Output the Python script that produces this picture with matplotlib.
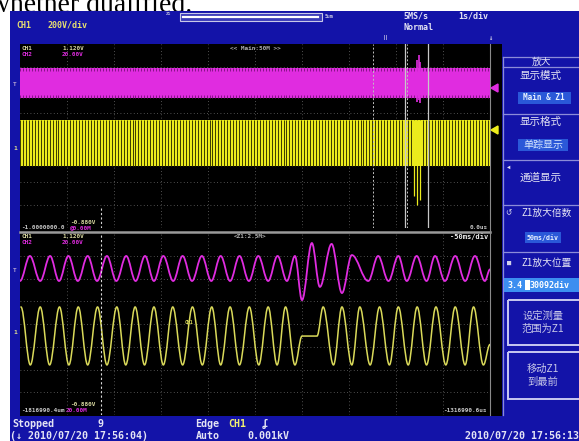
import matplotlib
matplotlib.use("Agg")
import matplotlib.pyplot as plt
from matplotlib.patches import Rectangle, Polygon, PathPatch
from matplotlib.path import Path

# ---------------- data ----------------
# Lower window (Z1 zoom): trace turning points; time in divisions (0-10), level in divisions (-4..4)
z1_ch1_t = [0.02, 0.22, 0.43, 0.63, 0.84, 1.04, 1.24, 1.44, 1.65, 1.85, 2.06, 2.25, 2.45, 2.65,
            2.85, 3.05, 3.25, 3.46, 3.67, 3.88, 4.08, 4.27, 4.47, 4.67, 4.88, 5.08, 5.28, 5.47,
            5.65, 5.85, 6.00, 6.32, 6.45, 6.67, 6.85, 7.06, 7.23, 7.45, 7.65, 7.86, 8.05, 8.26,
            8.45, 8.65, 8.85, 9.06, 9.26, 9.47, 9.65, 9.86, 10.00]
z1_ch1_v = [0.75, -1.80, 0.75, -1.80, 0.75, -1.80, 0.75, -1.80, 0.75, -1.80, 0.75, -1.80, 0.75, -1.80,
            0.75, -1.80, 0.75, -1.80, 0.75, -1.80, 0.75, -1.80, 0.75, -1.80, 0.75, -1.80, 0.75, -1.80,
            0.75, -1.80, -0.53, -0.53, 0.75, -1.80, 0.75, -1.80, 0.75, -1.80, 0.75, -1.80, 0.75, -1.80,
            0.75, -1.80, 0.75, -1.80, 0.75, -1.80, 0.75, -1.80, -0.90]
z1_ch2_t = [0.00, 0.21, 0.43, 0.64, 0.83, 1.03, 1.23, 1.44, 1.64, 1.85, 2.05, 2.26, 2.46, 2.66,
            2.85, 3.05, 3.26, 3.46, 3.66, 3.87, 4.07, 4.27, 4.47, 4.67, 4.87, 5.07, 5.28, 5.48,
            5.68, 5.85, 6.00, 6.21, 6.38, 6.63, 6.85, 7.06, 7.41, 7.62, 7.84, 8.05, 8.23, 8.44,
            8.65, 8.83, 9.04, 9.26, 9.47, 9.68, 9.89, 10.00]
z1_ch2_v = [1.89, 2.99, 1.89, 2.99, 1.89, 2.99, 1.89, 2.99, 1.89, 2.99, 1.89, 2.99, 1.89, 2.99,
            1.89, 2.99, 1.89, 2.99, 1.89, 2.99, 1.89, 2.99, 1.89, 2.99, 1.89, 2.99, 1.89, 2.99,
            1.89, 2.99, 1.05, 3.56, 1.63, 3.52, 1.36, 3.03, 1.89, 2.99, 1.89, 2.99, 1.89, 2.99,
            1.89, 2.99, 1.89, 2.99, 1.89, 2.99, 1.89, 2.40]

# Upper (main) window: envelopes of the compressed traces (divisions)
main_t = [0.0, 10.0]
main_ch2_hi = [2.96, 2.96]
main_ch2_lo = [1.65, 1.65]
main_ch1_hi = [0.70, 0.70]
main_ch1_lo = [-1.30, -1.30]
glitch_ch2_t = [8.45, 8.48, 8.51]
glitch_ch2_hi = [3.30, 3.52, 3.20]
glitch_ch2_lo = [1.50, 1.57, 1.45]
glitch_ch1_t = [8.38, 8.45, 8.51]
glitch_ch1_lo = [-2.60, -3.00, -2.80]
zoom_box = [8.19, 8.68]
cursor_t = 1.72

# ---------------- style ----------------
W, H = 579, 441
BLUE = "#1313a8"
MAG = "#e02ce0"
YEL = "#ecec1c"
YEL2 = "#dada5a"
TXT = "#e4e4f4"
MONO = "DejaVu Sans Mono"
CJK = ["Noto Sans CJK SC", "DejaVu Sans"]

fig = plt.figure(figsize=(W / 100, H / 100), dpi=100)
fig.patch.set_facecolor("white")
bg = fig.add_axes([0, 0, 1, 1])
bg.set_xlim(0, W)
bg.set_ylim(H, 0)
bg.axis("off")

# page text above the screenshot (partly hidden)
bg.text(-10, 11.5, "whether qualified.", family="Liberation Serif", fontsize=20,
        va="baseline", ha="left", color="black", zorder=0)
bg.add_patch(Rectangle((10, 10.5), W - 10, H, facecolor=BLUE, edgecolor="none", zorder=1))
bg.add_patch(Rectangle((20, 44), 482, 372, facecolor="black", edgecolor="none", zorder=2))

def t(x, y, s, size=6.5, color=TXT, ha="left", family=MONO, weight="bold", **kw):
    bg.text(x, y, s, fontsize=size, color=color, ha=ha, va="center", family=family,
            weight=weight, zorder=10, **kw)

# header
t(16, 25, "CH1", 6, "#e8e070")
t(48, 25, "200V/div", 6, "#e8e070")
bg.add_patch(Rectangle((180, 13), 142, 8, facecolor="#3a3ab8", edgecolor="#c8c8e8", lw=0.8, zorder=5))
bg.plot([183, 318], [17, 17], color="white", lw=1.6, zorder=6)
t(166, 14, "Z1", 3.2, "#c0c0e0")
t(325, 17, "5um", 3.5, "#c0c0e0")
t(403, 16, "5MS/s", 6)
t(458, 16, "1s/div", 6)
t(403, 27, "Normal", 6)
t(385, 38, "Ⅱ", 5, "#d0d0e8", ha="center", family=CJK, weight="normal")
t(490, 38, "↓", 5, "#d0d0e8", ha="center")

# ---------------- panels ----------------
def panel(y0, y1):
    ax = fig.add_axes([20 / W, 1 - y1 / H, 470 / W, (y1 - y0) / H])
    ax.set_xlim(0, 10)
    ax.set_ylim(-4, 4)
    ax.set_facecolor("none")
    ax.axis("off")
    for k in range(1, 10):
        ax.axvline(k, color="#6a6a6a", lw=0.6, ls=(0, (1, 3)), zorder=1)
    for k in range(-3, 4):
        ax.axhline(k, color="#6a6a6a", lw=0.6, ls=(0, (1, 3)), zorder=1)
    ax.set_zorder(5)
    return ax

def smooth_trace(ax, ts, vs, color, lw):
    verts = [(ts[0], vs[0])]
    codes = [Path.MOVETO]
    for i in range(1, len(ts)):
        t0, v0, t1, v1 = ts[i - 1], vs[i - 1], ts[i], vs[i]
        d = (t1 - t0) * 0.36
        verts += [(t0 + d, v0), (t1 - d, v1), (t1, v1)]
        codes += [Path.CURVE4] * 3
    ax.add_patch(PathPatch(Path(verts, codes), facecolor="none", edgecolor=color, lw=lw,
                           zorder=4, capstyle="round", joinstyle="round"))

ax1 = panel(44, 228)
ax2 = panel(233, 415)

# upper: compressed traces
ax1.fill_between(main_t, main_ch2_lo, main_ch2_hi, color=MAG, lw=0, zorder=3)
ax1.fill_between(main_t, main_ch1_lo, main_ch1_hi, color=YEL, lw=0, zorder=3)
xs = [i * 0.063 for i in range(int(10 / 0.063) + 1)]
ax1.vlines(xs, main_ch1_lo[0], main_ch1_hi[0], color="#3a3a00", lw=0.7, zorder=4)
ax1.vlines(xs, main_ch2_hi[0] - 0.12, main_ch2_hi[0], color="#7a107a", lw=0.6, zorder=4)
ax1.vlines(xs, main_ch2_lo[0], main_ch2_lo[0] + 0.12, color="#7a107a", lw=0.6, zorder=4)
ax1.vlines(glitch_ch2_t, glitch_ch2_lo, glitch_ch2_hi, color=MAG, lw=1.2, zorder=4)
ax1.vlines(glitch_ch1_t, glitch_ch1_lo, main_ch1_hi[0], color=YEL, lw=0.9, zorder=4)
for xb in zoom_box:
    ax1.axvline(xb, color="#c8c8c8", lw=0.9, zorder=6)
ax1.axvline(7.51, color="#c0c0c0", lw=0.7, ls=(0, (2, 2)), zorder=6)
ax1.axvline(8.24, color="#c0c0c0", lw=0.7, ls=(0, (2, 2)), zorder=6)
ax1.plot([cursor_t, cursor_t], [-4, -3.1], color="#d0d0d0", lw=0.8, ls=(0, (2, 2)), zorder=6)

# lower: zoomed traces
smooth_trace(ax2, z1_ch2_t, z1_ch2_v, MAG, 1.3)
smooth_trace(ax2, z1_ch1_t, z1_ch1_v, YEL2, 1.1)
ax2.axvline(cursor_t, color="#d8d8d8", lw=0.8, ls=(0, (2, 2)), zorder=6)

# separators / frame
bg.plot([20, 490], [231.5, 231.5], color="#9a9a9a", lw=1.8, zorder=7)
bg.plot([490, 490], [44, 415], color="#8a8a8a", lw=0.8, zorder=7)

# panel labels
for (yy, lo) in [(48, 222), (237, 405)]:
    t(22, yy, "CH1", 4.3, "#d8d8a0")
    t(62, yy, "1.120V", 4.3, "#d8d8a0")
    t(22, yy + 6, "CH2", 4.3, MAG)
    t(62, yy + 6, "20.00V", 4.3, MAG)
    t(70, lo, "-0.880V", 4.3, "#d8d8a0")
t(255, 48, "<< Main:50M >>", 4.3, "#b0b0b0", ha="center")
t(21, 227.5, "-1.0000000.0", 4.3, "#c8c8c8")
t(70, 227.5, "@0.00M", 4.3, MAG)
t(488, 227.5, "0.0us", 4.3, "#c8c8c8", ha="right")
t(250, 237, "<Z1:2.5M>", 4.3, "#b0b0b0", ha="center")
t(488, 237, "-50ms/div", 5, "#f0f0f0", ha="right")
t(21, 411, "-1816990.4um", 4.3, "#c8c8c8")
t(66, 411, "20.00M", 4.3, MAG)
t(487, 411, "-1316990.6us", 4.3, "#c8c8c8", ha="right")
t(185, 323, "CH1", 3.5, YEL2)

# side markers
for yy, col, s in [(84, "#b0a0d0", "T"), (148, "#e0e090", "1"), (270, "#b0a0d0", "T"), (333, "#e0e090", "1")]:
    t(15, yy, s, 4.5, col, ha="center")
bg.add_patch(Polygon([[491, 88], [498, 84], [498, 92]], closed=True, color=MAG, zorder=8))
bg.add_patch(Polygon([[491, 130], [498, 126], [498, 134]], closed=True, color=YEL, zorder=8))

# ---------------- right-hand menu ----------------
LINE = "#8c8cd8"
for yy in [57, 67, 114, 160, 205, 252]:
    bg.plot([503, 579], [yy, yy], color=LINE, lw=0.9, zorder=6)
bg.plot([503, 503], [57, 415], color=LINE, lw=0.9, zorder=6)

def c(x, y, s, size=7.6, color=TXT, ha="center"):
    bg.text(x, y, s, fontsize=size, color=color, ha=ha, va="center", family=CJK, zorder=10)

c(541, 62, "放大", 7)
c(541, 76, "显示模式")
bg.add_patch(Rectangle((518, 92), 53, 12, facecolor="#2a58d8", edgecolor="none", zorder=7))
t(544, 98, "Main & Z1", 5.5, "#e8f0ff", ha="center")
c(541, 122, "显示格式")
bg.add_patch(Rectangle((518, 139), 50, 12, facecolor="#2a58d8", edgecolor="none", zorder=7))
c(543, 145, "单踪显示", 7.2, "#d8e8ff")
c(541, 178, "通道显示")
t(507, 167, "◀", 4, "#e0e0f0")
c(547, 213, "Z1放大倍数", 7)
t(508, 213, "↺", 5.5, "#e0e0f0", ha="center", family="DejaVu Sans", weight="normal")
bg.add_patch(Rectangle((525, 232), 36, 11, facecolor="#2a58d8", edgecolor="none", zorder=7))
t(543, 238, "50ms/div", 4.8, "#e8f0ff", ha="center")
c(547, 263, "Z1放大位置", 7)
t(507, 263, "■", 5, "#d0d0e8")
bg.add_patch(Rectangle((504, 278), 75, 14, facecolor="#3c8ef0", edgecolor="none", zorder=7))
t(508, 285, "3.4", 6, "white")
bg.add_patch(Rectangle((525, 280), 5, 10, facecolor="white", edgecolor="none", zorder=9))
t(530, 285, "30092div", 6, "white")
for (y0, y1, l1, l2) in [(300, 345, "设定测量", "范围为Z1"), (352, 399, "移动Z1", "到最前")]:
    bg.add_patch(Rectangle((508, y0), 75, y1 - y0, facecolor="none", edgecolor="#c8c8f0",
                           lw=1.4, zorder=7))
    c(543, (y0 + y1) / 2 - 7, l1, 7.4, "#c8c8e8")
    c(543, (y0 + y1) / 2 + 6, l2, 7.4, "#c8c8e8")

# ---------------- status line ----------------
t(12, 424, "Stopped", 7.2)
t(98, 424, "9", 7.2)
t(10, 436, "(↓ 2010/07/20 17:56:04)", 7.2)
t(195, 424, "Edge", 7.2)
t(228, 424, "CH1", 7.2, "#f0f070")
t(262, 424, "ʆ", 7.2)
t(196, 436, "Auto", 7.2)
t(247, 436, "0.001kV", 7.2)
t(465, 436, "2010/07/20 17:56:13", 7.2)

fig.savefig("out.png", dpi=100, facecolor="white")
